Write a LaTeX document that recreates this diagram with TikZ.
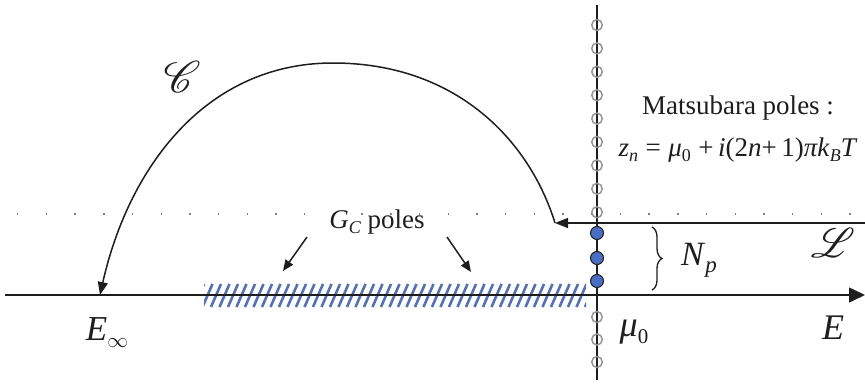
\documentclass[tikz,border=0pt]{standalone}
\usepackage{fontspec}
\setmainfont{Liberation Serif}
\usepackage{mathrsfs}
\usetikzlibrary{arrows.meta,decorations.pathreplacing,shapes.geometric}
\definecolor{hatchblue}{RGB}{84,114,178}
\definecolor{poleblue}{RGB}{74,110,196}
\definecolor{opengray}{RGB}{150,150,150}
\definecolor{ink}{RGB}{30,30,30}
\newcommand\subA[1]{\raisebox{-5pt}{\fontsize{18}{18}\selectfont #1}}
\newcommand\subB[1]{\raisebox{-7pt}{\fontsize{21}{21}\selectfont #1}}
\begin{document}
\begin{tikzpicture}[x=1pt,y=-1pt,
  axisline/.style={line width=1.5pt, draw=ink},
  tipbig/.style={-{Triangle[length=16pt,width=15pt]}},
  tipmid/.style={-{Triangle[length=13pt,width=10pt]}},
  tipsmall/.style={-{Triangle[length=11pt,width=9pt]}},
  openpole/.style={ellipse, draw=opengray, line width=1.5pt, minimum width=10.5pt, minimum height=11pt, inner sep=0pt},
  fullpole/.style={circle, draw=ink, fill=poleblue, line width=1pt, minimum size=13pt, inner sep=0pt},
  lbl/.style={inner sep=0pt, text=ink},
  dotline/.style={line width=1.4pt, draw=black!50, dash pattern=on 1.4pt off 27.3pt},
  hatch/.style={draw=hatchblue, line width=2.6pt}]
\useasboundingbox (0,0) rectangle (865,383);
% dotted line
\coordinate (dotL) at (17,214);
\coordinate (dotR) at (865,214);
\draw[dotline] (dotL) -- (dotR);
% hatched band
\begin{scope}
\clip (204,283) rectangle (586,308);
\foreach \x in {194,202.5,...,592} \draw[hatch] (\x,307) -- (\x+10,284);
\end{scope}
% axes
\coordinate (axL) at (5,295);
\coordinate (axR) at (865,295);
\coordinate (vT) at (597,5);
\coordinate (vB) at (597,380);
\draw[axisline, tipbig] (axL) -- (axR);
\draw[axisline, line width=1.8pt] (vT) -- (vB);
% open Matsubara poles
\foreach \y [count=\i] in {25,48.4,71.8,95.2,118.6,142,165.4,188.8,212.2,317,339.5,362}
  \node[openpole] (op\i) at (597,\y) {};
% filled poles
\foreach \y [count=\i] in {233,258,281}
  \node[fullpole] (fp\i) at (597,\y) {};
% contour L
\coordinate (Lstart) at (865,223);
\coordinate (Lend) at (555,223);
\draw[axisline, tipmid] (Lstart) -- (Lend);
% contour C
\coordinate (Ctop) at (333,63);
\coordinate (Einf) at (100,295);
\draw[axisline, tipmid] (Lend) .. controls (529,139) and (455,63) .. (Ctop)
  .. controls (204,63) and (128,170) .. (Einf);
% G_C arrows
\node[lbl, font=\fontsize{27}{27}\selectfont] (gc) at (377,222) {\textit{G}\subA{\textit{C}} poles};
\coordinate (ga1) at (307,237);
\coordinate (ga2) at (283,271);
\coordinate (gb1) at (447,237);
\coordinate (gb2) at (471,272);
\draw[axisline, tipsmall] (ga1) -- (ga2);
\draw[axisline, tipsmall] (gb1) -- (gb2);
% brace
\coordinate (brT) at (652,227);
\coordinate (brB) at (652,290);
\draw[line width=1.3pt, draw=ink, decorate, decoration={brace, amplitude=10pt}] (brT) -- (brB);
\node[lbl, font=\fontsize{34}{34}\selectfont, anchor=west] (Np) at (681,260) {\textit{N}\raisebox{-7pt}{\fontsize{23}{23}\selectfont\textit{p}}};
% labels
\node[lbl] (Cl) at (182,77) {\resizebox{!}{31pt}{$\mathscr{C}$}};
\node[lbl] (Ll) at (833,243) {\resizebox{!}{29pt}{$\mathscr{L}$}};
\node[lbl, font=\fontsize{35}{35}\selectfont] (Einfl) at (107,333) {\textit{E}\subB{$\infty$}};
\node[lbl, font=\fontsize{36}{36}\selectfont] (mu) at (634,332) {\textit{μ}\subB{0}};
\node[lbl, font=\fontsize{36}{36}\selectfont] (El) at (833,328) {\textit{E}};
\node[lbl, font=\fontsize{27}{27}\selectfont] (mt) at (738,108) {Matsubara poles :};
\node[lbl, font=\fontsize{27}{27}\selectfont] (zn) at (738,150) {\textit{z}\subA{\textit{n}}\;=\;\textit{μ}\subA{0}\;+\,\textit{i}(2\textit{n}+\,1)\textit{πk}\subA{\textit{B}}\textit{T}};
\end{tikzpicture}
\end{document}
